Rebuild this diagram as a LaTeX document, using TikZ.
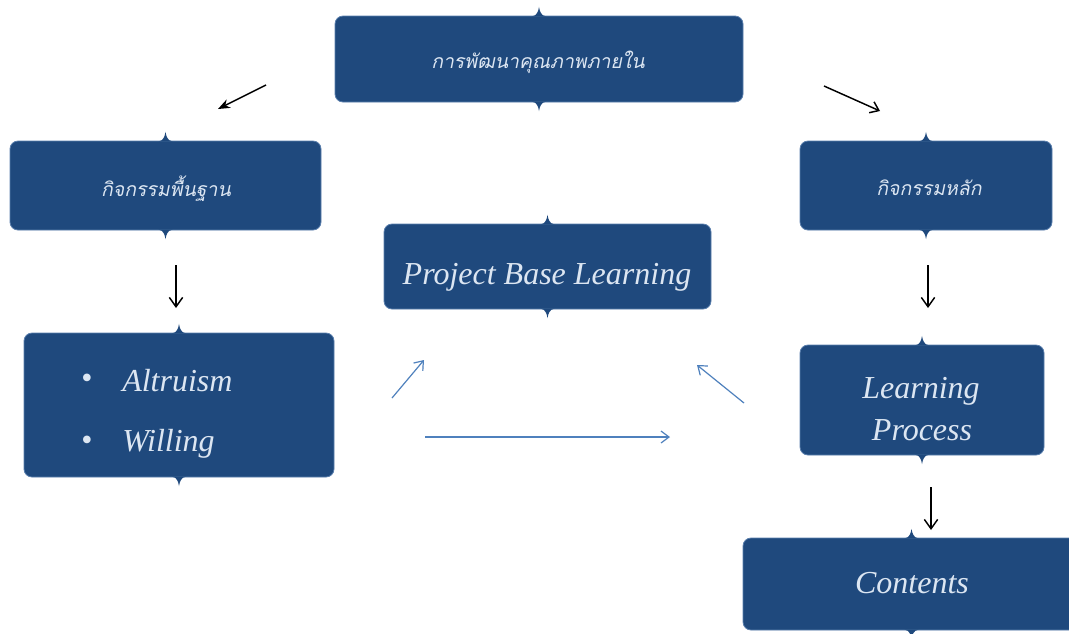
\documentclass[tikz,border=0pt]{standalone}
\usepackage{fontspec}
\setmainfont{Liberation Serif}
\newfontfamily\thaifont[Script=Thai,FakeSlant=0.2]{Loma}
\usetikzlibrary{arrows.meta}
\definecolor{boxblue}{HTML}{1F497D}
\definecolor{boxline}{HTML}{5A7FAD}
\definecolor{txtc}{HTML}{DCE6F2}
\definecolor{arrblue}{HTML}{4F81BD}
\newcommand\bxtabs[1]{%
  \fill[boxblue] ([xshift=-5.25pt,yshift=-0.6pt]#1.north) .. controls ([xshift=-1.5pt]#1.north) and ([xshift=-0.6pt,yshift=3pt]#1.north) .. ([yshift=6.5pt]#1.north) .. controls ([xshift=0.6pt,yshift=3pt]#1.north) and ([xshift=1.5pt]#1.north) .. ([xshift=5.25pt,yshift=-0.6pt]#1.north) -- cycle;
  \fill[boxblue] ([xshift=-5.25pt,yshift=0.6pt]#1.south) .. controls ([xshift=-1.5pt]#1.south) and ([xshift=-0.6pt,yshift=-3pt]#1.south) .. ([yshift=-6.5pt]#1.south) .. controls ([xshift=0.6pt,yshift=-3pt]#1.south) and ([xshift=1.5pt]#1.south) .. ([xshift=5.25pt,yshift=0.6pt]#1.south) -- cycle;
}
\begin{document}
\begin{tikzpicture}[x=0.75pt,y=-0.75pt,
  box/.style={draw=boxline, line width=0.6pt, fill=boxblue, rounded corners=6pt, inner sep=0pt},
  entxt/.style={text=txtc, inner sep=0pt, font=\itshape\fontsize{24}{31.5}\selectfont},
  thaitxt/.style={text=txtc, inner sep=0pt, font=\thaifont\fontsize{14.6}{18}\selectfont},
  blk/.style={black, line width=1.1pt},
  blu/.style={arrblue, line width=0.9pt, -{Straight Barb[length=6pt,width=9pt]}}]
\fill[white] (0,0) rectangle (1069,633);
\useasboundingbox (0,0) rectangle (1069,633);

% boxes
\node[box, minimum width=306pt, minimum height=64.5pt] (top) at (539,59) {};
\node[box, minimum width=233.25pt, minimum height=66.75pt] (left) at (165.5,185.5) {};
\node[box, minimum width=189pt, minimum height=66.75pt] (right) at (926,185.5) {};
\node[box, minimum width=245.25pt, minimum height=63.75pt] (pbl) at (547.5,266.5) {};
\node[box, minimum width=232.5pt, minimum height=108pt] (alt) at (179,405) {};
\node[box, minimum width=183pt, minimum height=82.5pt] (lp) at (922,400) {};
\node[box, minimum width=252.75pt, minimum height=69pt] (cont) at (911.5,584) {};
\foreach \n in {top,left,right,pbl,alt,lp,cont} {\bxtabs{\n}}

% texts
\node[thaitxt] (toptxt) at (538,62) {การพัฒนาคุณภาพภายใน};
\node[thaitxt] (lefttxt) at (166,189) {กิจกรรมพื้นฐาน};
\node[thaitxt] (righttxt) at (929,188) {กิจกรรมหลัก};
\node[entxt, anchor=base] (pbltxt) at (547,284) {Project Base Learning};
\node[entxt, anchor=base] (lptxt1) at (921,398) {Learning};
\node[entxt, anchor=base] (lptxt2) at (922,440) {Process};
\node[entxt, anchor=base] (conttxt) at (912,593) {Contents};

% list inside the left lower box
\node[entxt, font=\fontsize{24}{26}\selectfont] (bul1) at (87,381) {\textbullet};
\node[entxt, font=\fontsize{24}{26}\selectfont] (bul2) at (87,443) {\textbullet};
\node[entxt, anchor=base west] (alt1) at (122,391) {Altruism};
\node[entxt, anchor=base west] (alt2) at (122,451) {Willing};

% black arrows
\coordinate (a1s) at (266,85);  \coordinate (a1e) at (218,109);
\coordinate (a2s) at (824,86);  \coordinate (a2e) at (880,111);
\coordinate (d1s) at (176,265); \coordinate (d1e) at (176,308);
\coordinate (d2s) at (928,265); \coordinate (d2e) at (928,308);
\coordinate (d3s) at (931,487); \coordinate (d3e) at (931,530);
\draw[blk, -{Stealth[length=9pt,width=7pt]}] (a1s) -- (a1e);
\draw[blk, -{Straight Barb[length=6pt,width=9pt]}] (a2s) -- (a2e);
\draw[blk, -{Straight Barb[length=7pt,width=10pt]}] (d1s) -- (d1e);
\draw[blk, -{Straight Barb[length=7pt,width=10pt]}] (d2s) -- (d2e);
\draw[blk, -{Straight Barb[length=7pt,width=10pt]}] (d3s) -- (d3e);

% blue arrows
\coordinate (b1s) at (392,398); \coordinate (b1e) at (424,360);
\coordinate (b2s) at (425,437); \coordinate (b2e) at (670,437);
\coordinate (b3s) at (744,403); \coordinate (b3e) at (697,365);
\draw[blu] (b1s) -- (b1e);
\draw[blu] (b2s) -- (b2e);
\draw[blu] (b3s) -- (b3e);
\end{tikzpicture}
\end{document}
